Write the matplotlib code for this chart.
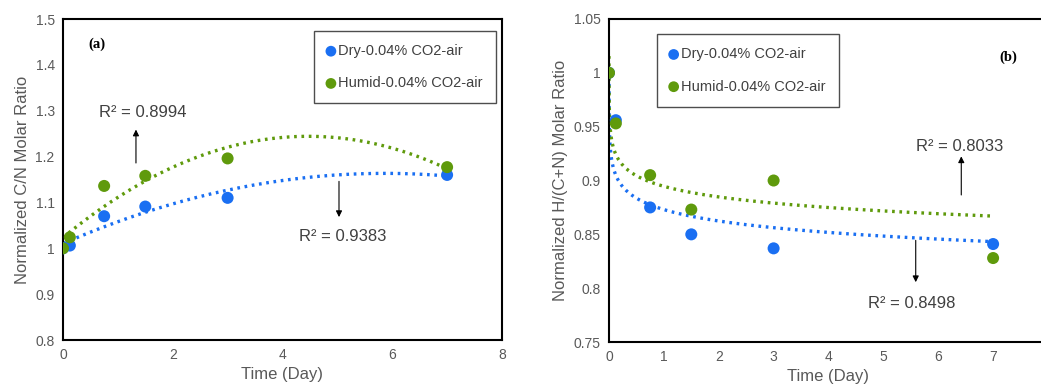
import numpy as np
import matplotlib
matplotlib.use("Agg")
import matplotlib.pyplot as plt
from matplotlib.ticker import FuncFormatter

plt.rcParams['font.family'] = ['Liberation Sans', 'DejaVu Sans']

# ---------------- data ----------------
days = [0, 0.125, 0.75, 1.5, 3, 7]

cn_dry = [1.000, 1.006, 1.070, 1.091, 1.110, 1.160]
cn_humid = [1.000, 1.024, 1.136, 1.158, 1.196, 1.177]

hcn_dry = [1.000, 0.956, 0.875, 0.850, 0.837, 0.841]
hcn_humid = [1.000, 0.953, 0.905, 0.873, 0.900, 0.828]

# logarithmic trendlines: y = a + b*ln(x)
hcn_dry_log = (0.873, -0.0153)
hcn_humid_log = (0.8946, -0.0142)

labels = ["Dry-0.04% CO2-air", "Humid-0.04% CO2-air"]
r2_a = ["R² = 0.9383", "R² = 0.8994"]
r2_b = ["R² = 0.8498", "R² = 0.8033"]

BLUE = "#1a6ff2"
GREEN = "#5f9a0c"
TXT = "#404040"
TICK = "#595959"

fig = plt.figure(figsize=(10.41, 3.9), dpi=100)

def fmt(v, pos):
    return ("%g" % round(v, 4))

def style(ax):
    for s in ax.spines.values():
        s.set_color("black")
        s.set_linewidth(1.5)
    ax.tick_params(length=0, labelsize=10, colors=TICK, pad=6)
    ax.yaxis.set_major_formatter(FuncFormatter(fmt))
    ax.xaxis.set_major_formatter(FuncFormatter(fmt))

def legend(ax, anchor):
    h1 = ax.scatter([], [], s=60, color=BLUE, edgecolors='none')
    h2 = ax.scatter([], [], s=60, color=GREEN, edgecolors='none')
    lg = ax.legend([h1, h2], labels, loc='upper right', bbox_to_anchor=anchor,
                   frameon=True, fancybox=False, fontsize=10.5, labelcolor=TXT,
                   handlelength=0.5, handletextpad=0.25, labelspacing=1.25,
                   borderpad=0.9, borderaxespad=0, scatterpoints=1)
    lg.get_frame().set_edgecolor("#222222")
    lg.get_frame().set_linewidth(1.0)
    return lg

# ---------------- panel (a) ----------------
ax1 = fig.add_axes([0.0605, 0.1282, 0.4217, 0.823])
xs = np.linspace(0, 7, 200)
for y, c in ((cn_dry, BLUE), (cn_humid, GREEN)):
    p = np.polyfit(days, y, 2)
    ax1.plot(xs, np.polyval(p, xs), linestyle=(0, (0.8, 1.4)), color=c, lw=2.4, zorder=2)
ax1.scatter(days, cn_dry, s=75, color=BLUE, edgecolors='none', zorder=3)
ax1.scatter(days, cn_humid, s=75, color=GREEN, edgecolors='none', zorder=3)
ax1.set_xlim(0, 8)
ax1.set_ylim(0.8, 1.5)
ax1.set_xticks([0, 2, 4, 6, 8])
ax1.set_yticks(np.round(np.arange(0.8, 1.51, 0.1), 2))
style(ax1)
ax1.set_xlabel("Time (Day)", fontsize=12, color=TICK, labelpad=3)
ax1.set_ylabel("Normalized C/N Molar Ratio", fontsize=12, color=TICK, labelpad=4)
legend(ax1, (0.986, 0.963))
ax1.text(0.46, 1.445, "(a)", fontfamily='Liberation Serif', fontweight='bold',
         fontsize=10.5, color='black', va='center')
ax1.annotate("", xy=(1.33, 1.265), xytext=(1.33, 1.18),
             arrowprops=dict(arrowstyle='-|>', color='black', lw=0.8, mutation_scale=9))
ax1.text(0.65, 1.296, r2_a[1], fontsize=12, color=TXT, va='center')
ax1.annotate("", xy=(5.03, 1.062), xytext=(5.03, 1.152),
             arrowprops=dict(arrowstyle='-|>', color='black', lw=0.8, mutation_scale=9))
ax1.text(4.3, 1.025, r2_a[0], fontsize=12, color=TXT, va='center')

# ---------------- panel (b) ----------------
ax2 = fig.add_axes([0.585, 0.123, 0.4217, 0.8283])
xl = np.logspace(np.log10(0.0002), np.log10(7), 300)
for (a, b), c in ((hcn_dry_log, BLUE), (hcn_humid_log, GREEN)):
    ax2.plot(xl, a + b * np.log(xl), linestyle=(0, (0.8, 1.4)), color=c, lw=2.4, zorder=2)
ax2.scatter(days, hcn_dry, s=75, color=BLUE, edgecolors='none', zorder=3)
ax2.scatter(days, hcn_humid, s=75, color=GREEN, edgecolors='none', zorder=3)
ax2.set_xlim(0, 8)
ax2.set_ylim(0.75, 1.05)
ax2.set_xticks(range(0, 8))
ax2.set_yticks(np.round(np.arange(0.75, 1.051, 0.05), 2))
style(ax2)
ax2.set_xlabel("Time (Day)", fontsize=12, color=TICK, labelpad=3)
ax2.set_ylabel("Normalized H/(C+N) Molar Ratio", fontsize=12, color=TICK, labelpad=4)
legend(ax2, (0.523, 0.953))
ax2.text(7.12, 1.014, "(b)", fontfamily='Liberation Serif', fontweight='bold',
         fontsize=10.5, color='black', va='center')
ax2.annotate("", xy=(6.42, 0.925), xytext=(6.42, 0.884),
             arrowprops=dict(arrowstyle='-|>', color='black', lw=0.8, mutation_scale=9))
ax2.text(5.59, 0.932, r2_b[1], fontsize=12, color=TXT, va='center')
ax2.annotate("", xy=(5.59, 0.803), xytext=(5.59, 0.847),
             arrowprops=dict(arrowstyle='-|>', color='black', lw=0.8, mutation_scale=9))
ax2.text(4.72, 0.786, r2_b[0], fontsize=12, color=TXT, va='center')

fig.savefig("out.png", dpi=100)
